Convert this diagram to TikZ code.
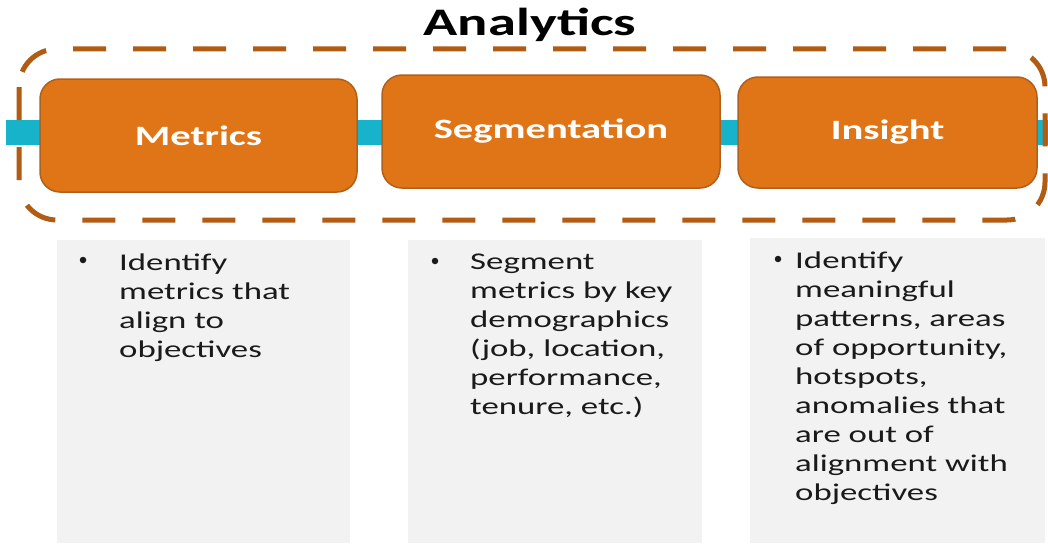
\documentclass[tikz,border=0pt]{standalone}
\usepackage{fontspec}
\setmainfont{Carlito}[FakeStretch=1.45]
\definecolor{boxfill}{HTML}{DF7516}
\definecolor{boxedge}{HTML}{B0601C}
\definecolor{framecol}{HTML}{B05C12}
\definecolor{barcol}{HTML}{17B3CB}
\definecolor{panelcol}{HTML}{F2F2F2}
\definecolor{bodycol}{HTML}{1A1A1A}
\tikzset{
  stagebox/.style={draw=boxedge, line width=1.5pt, fill=boxfill, rounded corners=20pt,
    text=white, font=\fontsize{28}{32}\selectfont\bfseries, inner sep=0pt},
  panelbox/.style={fill=panelcol, draw=none, inner sep=0pt, anchor=north west},
  bodytext/.style={text=bodycol, font=\fontsize{24}{29}\selectfont, align=left, inner sep=0pt, anchor=north west},
  bulletmark/.style={fill=bodycol, draw=none, circle, inner sep=0pt, minimum size=6.5pt},
  framestyle/.style={draw=framecol, line width=5pt, dash pattern=on 33pt off 27pt, rounded corners=38pt},
}
\begin{document}
\begin{tikzpicture}[x=1pt,y=-1pt]
\useasboundingbox (0,0) rectangle (1048,543);
\fill[white] (0,0) rectangle (1048,543);
% title
\node[font=\fontsize{39}{44}\selectfont\bfseries, text=black, inner sep=0pt] (title) at (530,25) {Analytics};
% cyan bar
\fill[barcol] (6,120) rectangle (1048,145);
% dashed frame
\draw[framestyle] (19,49) rectangle (1045,220);
% stage boxes
\node[stagebox, minimum width=317pt, minimum height=113pt] (metrics) at (198.5,135.5) {Metrics};
\node[stagebox, minimum width=338pt, minimum height=113pt] (segm) at (551,131.5) {Segmentation};
\node[stagebox, minimum width=299pt, minimum height=111pt] (insight) at (887.5,132.5) {Insight};
% panels
\node[panelbox, minimum width=293pt, minimum height=303pt] (p1) at (57,240) {};
\node[panelbox, minimum width=294pt, minimum height=303pt] (p2) at (408,240) {};
\node[panelbox, minimum width=295pt, minimum height=305pt] (p3) at (750,238) {};
% texts
\node[bulletmark] (b1) at (83,260) {};
\node[bodytext] (t1) at (119,254) {Identify\\metrics that\\align to\\objectives};
\node[bulletmark] (b2) at (435,261) {};
\node[bodytext] (t2) at (470,254) {Segment\\metrics by key\\demographics\\(job, location,\\performance,\\tenure, etc.)};
\node[bulletmark] (b3) at (778,259) {};
\node[bodytext] (t3) at (795,252) {Identify\\meaningful\\patterns, areas\\of opportunity,\\hotspots,\\anomalies that\\are out of\\alignment with\\objectives};
\end{tikzpicture}
\end{document}
